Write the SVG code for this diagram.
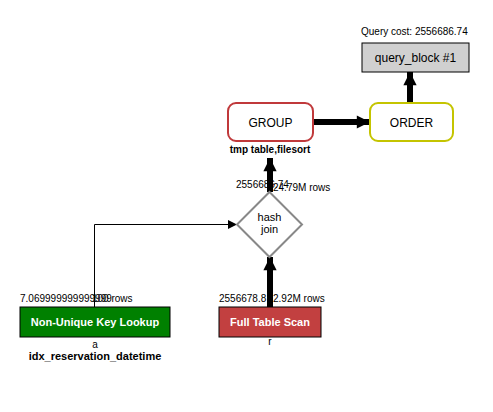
<svg xmlns="http://www.w3.org/2000/svg" width="493" height="412" viewBox="0 0 493 412">
<defs>
<marker id="ah" viewBox="0 0 10 10" refX="10" refY="5" markerWidth="3" markerHeight="2.2" orient="auto" markerUnits="strokeWidth"><path d="M0,0 L10,5 L0,10 z" fill="#000"/></marker>
<marker id="ahs" viewBox="0 0 10 10" refX="10" refY="5" markerWidth="14" markerHeight="9" orient="auto" markerUnits="userSpaceOnUse"><path d="M0,0 L10,5 L0,10 z" fill="#000"/></marker>
</defs>
<style>
text{font-family:"Liberation Sans",Arial,sans-serif;fill:#000}
.lbl{font-size:10px}
.big{font-size:12px}
.hj{font-size:11px}
.b{font-weight:bold}
.w{fill:#fff;font-weight:bold;font-size:11px}
.thick{stroke:#000;stroke-width:6;fill:none;marker-end:url(#ah)}
.thin{stroke:#000;stroke-width:1;fill:none;marker-end:url(#ahs)}
</style>
<rect width="493" height="412" fill="#fff"/>
<g id="connectors">
<path class="thick" d="M410,103 V72"/>
<path class="thick" d="M313,122 H370"/>
<path class="thick" d="M270,192 V158"/>
<path class="thick" d="M270,307 V257"/>
<path class="thin" d="M94.5,307 V224.5 H237"/>
</g>
<g id="query_block">
<text class="lbl" x="361" y="35">Query cost: 2556686.74</text>
<rect x="362" y="43" width="107" height="29" fill="#d0d0d0" stroke="#000" stroke-width="1"/>
<text class="big" x="415.5" y="62" text-anchor="middle">query_block #1</text>
</g>
<g id="order">
<rect x="370" y="103" width="83" height="38" rx="8" fill="#fff" stroke="#c4c400" stroke-width="2"/>
<text class="big" x="411.5" y="126.5" text-anchor="middle">ORDER</text>
</g>
<g id="group">
<rect x="228" y="103" width="85" height="38" rx="8" fill="#fff" stroke="#c0393b" stroke-width="2"/>
<text class="big" x="270.5" y="126.5" text-anchor="middle">GROUP</text>
<text class="lbl b" x="270" y="153" text-anchor="middle">tmp table,filesort</text>
</g>
<g id="hashjoin">
<text class="lbl" x="236" y="188">2556686.74</text>
<text class="lbl" x="273" y="191">24.79M rows</text>
<polygon points="269.5,192 302,224.5 269.5,257 237,224.5" fill="#fff" stroke="#888" stroke-width="2"/>
<text class="hj" x="269.5" y="221" text-anchor="middle">hash</text>
<text class="hj" x="269.5" y="233" text-anchor="middle">join</text>
</g>
<g id="lookup_a">
<text class="lbl" x="20" y="302">7.069999999999999</text>
<text class="lbl" x="92" y="302">100 rows</text>
<rect x="20" y="307" width="150" height="30" fill="#008000" stroke="#000" stroke-width="1"/>
<text class="w" x="95" y="326" text-anchor="middle">Non-Unique Key Lookup</text>
<text class="lbl" x="95" y="348" text-anchor="middle">a</text>
<text class="hj b" x="95" y="360" text-anchor="middle">idx_reservation_datetime</text>
</g>
<g id="scan_r">
<text class="lbl" x="219" y="302">2556678.8</text>
<text class="lbl" x="273" y="302">2.92M rows</text>
<rect x="219" y="307" width="102" height="30" fill="#c24040" stroke="#000" stroke-width="1"/>
<text class="w" x="270" y="326" text-anchor="middle">Full Table Scan</text>
<text class="lbl" x="270" y="345" text-anchor="middle">r</text>
</g>
</svg>
